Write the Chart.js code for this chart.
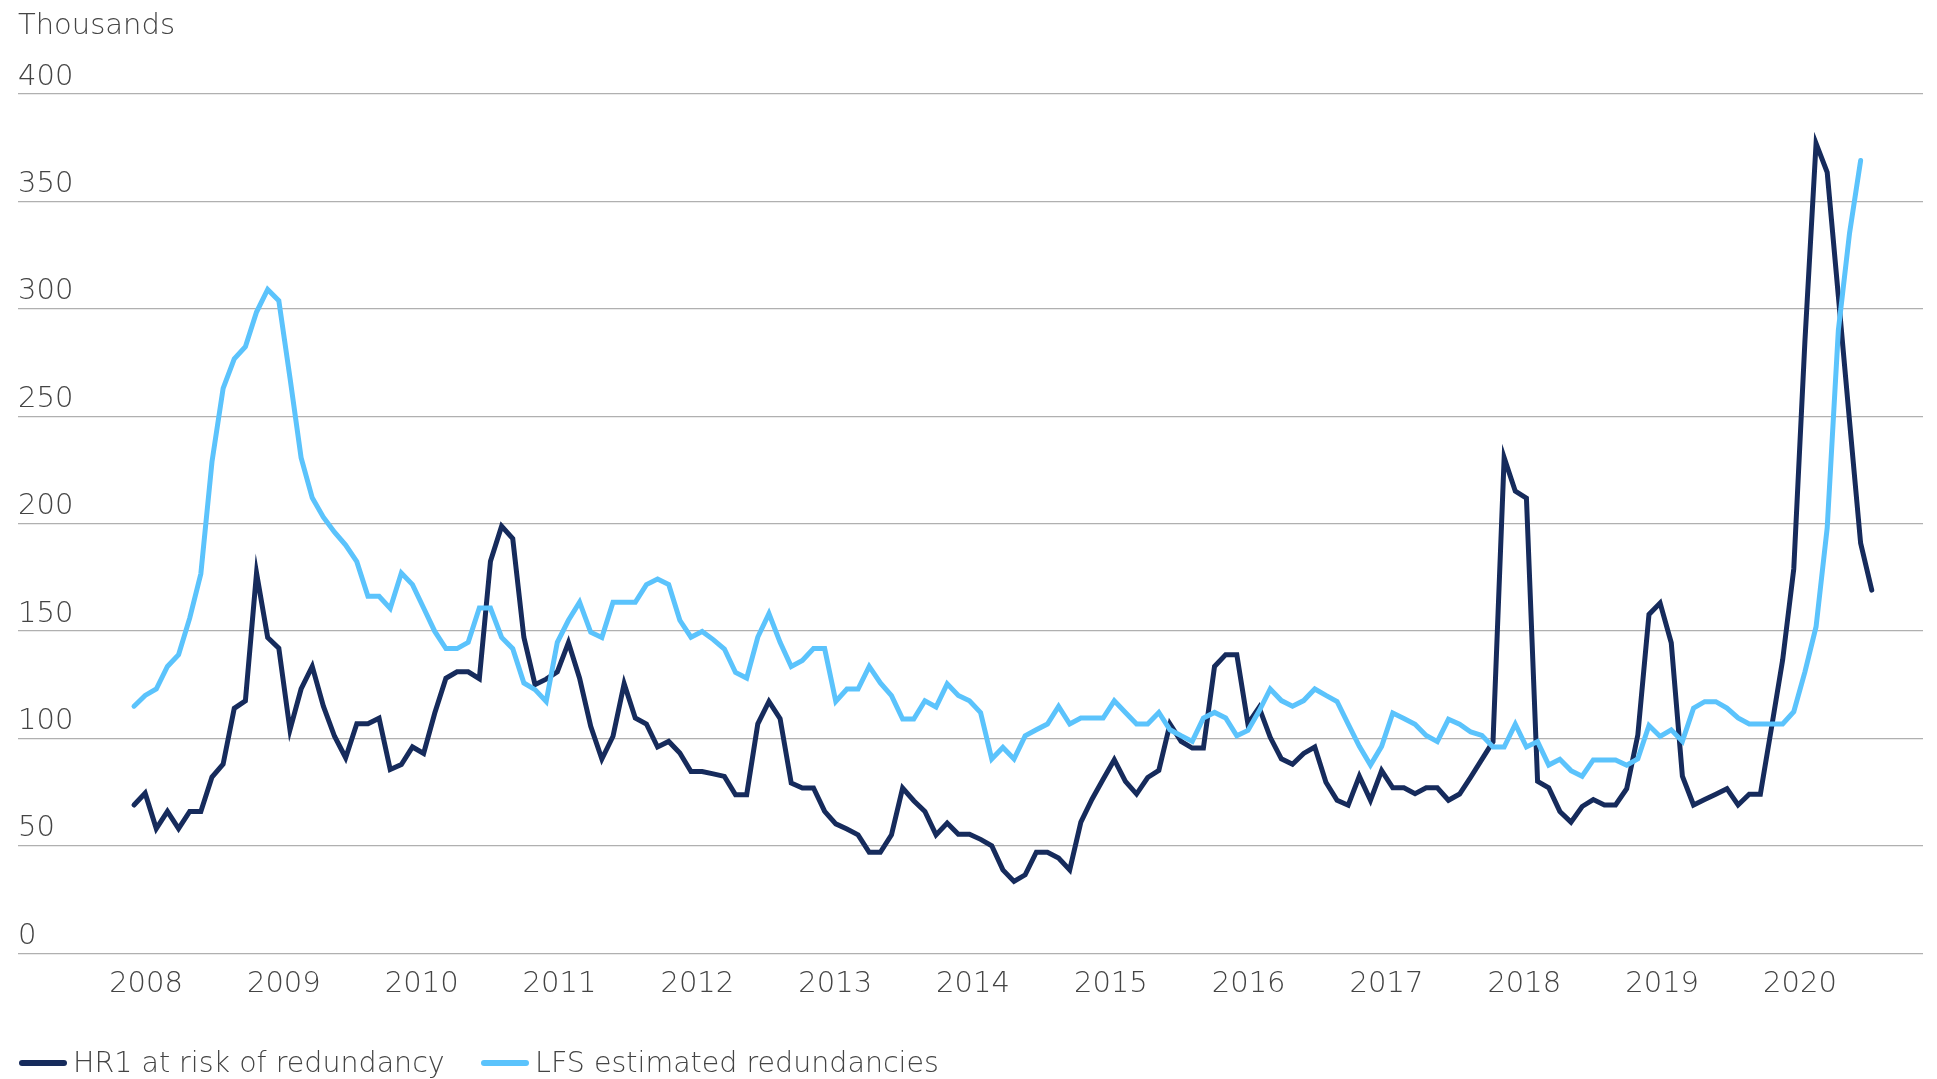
<!DOCTYPE html>
<html>
<head>
<meta charset="utf-8">
<title>Redundancies</title>
<script src="https://cdn.jsdelivr.net/npm/chart.js@4.4.0/dist/chart.umd.min.js"></script>
<style>
  html, body { margin: 0; padding: 0; background: #fff; }
  #wrap { position: relative; width: 1937px; height: 1079px; overflow: hidden; }
  #cv { position: absolute; left: 0; top: 0; }
  .txt { position: absolute; white-space: nowrap; line-height: 1;
         font-family: 'DejaVu Sans', sans-serif; font-weight: 300; color: #444; }
  #unit { left: 18px; top: 10px; font-size: 29px; }
  .item { top: 1049px; font-size: 28.5px; display: flex; align-items: center; }
  .swatch { width: 48px; height: 6px; border-radius: 3px; margin-right: 6px; }
</style>
</head>
<body>
<div id="wrap">
  <canvas id="cv" width="1937" height="1079"></canvas>
  <div class="txt" id="unit">Thousands</div>
  <div class="txt item" style="left:19px"><span class="swatch" style="background:#162b5c"></span>HR1 at risk of redundancy</div>
  <div class="txt item" style="left:481px"><span class="swatch" style="background:#5bc3fc"></span>LFS estimated redundancies</div>
</div>
<script>
// monthly values, thousands
var hr1 = [
  69, 74.5, 58, 66, 58, 66, 66, 82, 88, 114,
  117.5, 177, 147, 142, 104, 123, 133.5, 115, 101, 91,
  106.8, 106.8, 109.4, 85.5, 87.8, 96, 93, 111.8, 128, 131,
  131, 127.8, 182.5, 198.8, 193, 147, 125, 127.6, 131, 144.6,
  128, 105.6, 90.4, 101, 125.5, 109.5, 106.7, 96, 98.6, 93.2,
  84.6, 84.6, 83.5, 82.3, 73.8, 73.8, 106.8, 117.2, 109.2, 79.2,
  76.9, 76.9, 66, 60.2, 57.8, 55.1, 47, 47, 55.1, 76.9,
  71, 66, 55.1, 60.6, 55.4, 55.4, 53, 50, 38.8, 33.4,
  36.5, 47, 47, 44.3, 38.8, 61, 71.7, 81, 90.1, 80,
  74.1, 81.8, 85.1, 106.7, 98.6, 95.5, 95.5, 133.5, 139, 139,
  106.7, 114.4, 100.5, 90.5, 88, 93, 96, 79.6, 71.2, 68.9,
  82.4, 71.2, 85, 77, 77, 74.3, 77, 77, 71.2, 74.1,
  82, 90.2, 98.5, 230.7, 215.1, 211.8, 80, 77, 66, 61,
  68.3, 71.5, 69, 69, 76.6, 101.6, 157.7, 163, 144.5, 82.4,
  69, 71.5, 74, 76.6, 69, 74, 74, 105, 136.5, 179,
  285, 377, 363.5, 306, 248, 190.9, 169
];
var lfs = [
  115, 120, 123, 133.5, 139, 156, 176.6, 228.8, 263, 276.7,
  282.3, 298.5, 309, 303.8, 268, 230.7, 212, 203, 196, 190,
  182.3, 166.2, 166.2, 160.5, 177, 171.6, 160.7, 149.8, 141.8, 141.8,
  144.7, 160.7, 160.7, 147, 141.8, 125.8, 122.7, 117.2, 144.7, 155,
  163.4, 149.4, 147, 163.4, 163.4, 163.4, 171.6, 174.2, 171.6, 155,
  147.1, 149.8, 146, 141.6, 130.7, 128.1, 147.2, 158.1, 144.7, 133.5,
  136.3, 141.8, 141.8, 117.2, 123, 123, 133.5, 125.8, 119.9, 109,
  109, 117.5, 114.6, 125.4, 120, 117.5, 112, 90.4, 95.8, 90.4,
  101.2, 104, 106.7, 114.9, 106.7, 109.5, 109.5, 109.5, 117.5, 112.1,
  106.7, 106.7, 112.1, 104, 101.2, 98.6, 109.5, 112.1, 109.5, 101.2,
  103.7, 112.7, 123, 117.6, 115, 117.6, 123, 120, 117.2, 106.6,
  96.3, 87.6, 96.3, 111.8, 109.3, 106.6, 101.4, 98.5, 108.9, 106.6,
  103, 101.4, 96, 96, 106.6, 96, 98.5, 87.6, 90.3, 85,
  82.4, 90, 90, 90, 87.5, 90.5, 106, 100.9, 104, 98.6,
  114.1, 117.1, 117.1, 114.1, 109.5, 106.7, 106.7, 106.7, 106.7, 112.4,
  131, 152, 198, 290, 335, 369
];
var yearLabels = ['2008', '2009', '2010', '2011', '2012', '2013', '2014',
                  '2015', '2016', '2017', '2018', '2019', '2020'];

// where the year labels sit, in month-index units
var firstYearAt = 1.08;
var monthsPerLabel = 12.373;

var textColor = '#444';
var tickFont = { family: 'DejaVu Sans', size: 29, weight: 300 };

function toPoints(values) {
    return values.map(function(v, i) { return { x: i, y: v }; });
}

var ctx = document.getElementById('cv').getContext('2d');
new Chart(ctx, {
    type: 'line',
    data: {
        datasets: [{
            label: 'LFS estimated redundancies',
            data: toPoints(lfs),
            borderColor: '#5bc3fc',
            borderWidth: 5,
            borderCapStyle: 'round',
            pointRadius: 0,
            tension: 0,
            fill: false
        }, {
            label: 'HR1 at risk of redundancy',
            data: toPoints(hr1),
            borderColor: '#162b5c',
            borderWidth: 5,
            borderCapStyle: 'round',
            pointRadius: 0,
            tension: 0,
            fill: false
        }]
    },
    options: {
        responsive: false,
        animation: false,
        devicePixelRatio: 1,
        layout: { padding: { left: 18, right: 14, top: 94, bottom: 71 } },
        plugins: {
            legend: { display: false },
            tooltip: { enabled: false }
        },
        scales: {
            x: {
                type: 'linear',
                min: -10.414,
                max: 160.6,
                grid: { display: false },
                border: { display: false },
                afterBuildTicks: function(scale) {
                    scale.ticks = yearLabels.map(function(l, k) {
                        return { value: firstYearAt + monthsPerLabel * k };
                    });
                },
                ticks: {
                    autoSkip: false,
                    maxRotation: 0,
                    padding: 6,
                    color: textColor,
                    font: tickFont,
                    callback: function(v) {
                        var k = Math.round((v - firstYearAt) / monthsPerLabel);
                        return yearLabels[k];
                    }
                }
            },
            y: {
                min: 0,
                max: 400,
                grid: { color: '#b0b0b0', lineWidth: 1.3, drawTicks: false },
                border: { display: false },
                ticks: {
                    stepSize: 50,
                    mirror: true,
                    padding: 0,
                    labelOffset: -17,
                    color: textColor,
                    font: tickFont
                }
            }
        }
    }
});
</script>
</body>
</html>
